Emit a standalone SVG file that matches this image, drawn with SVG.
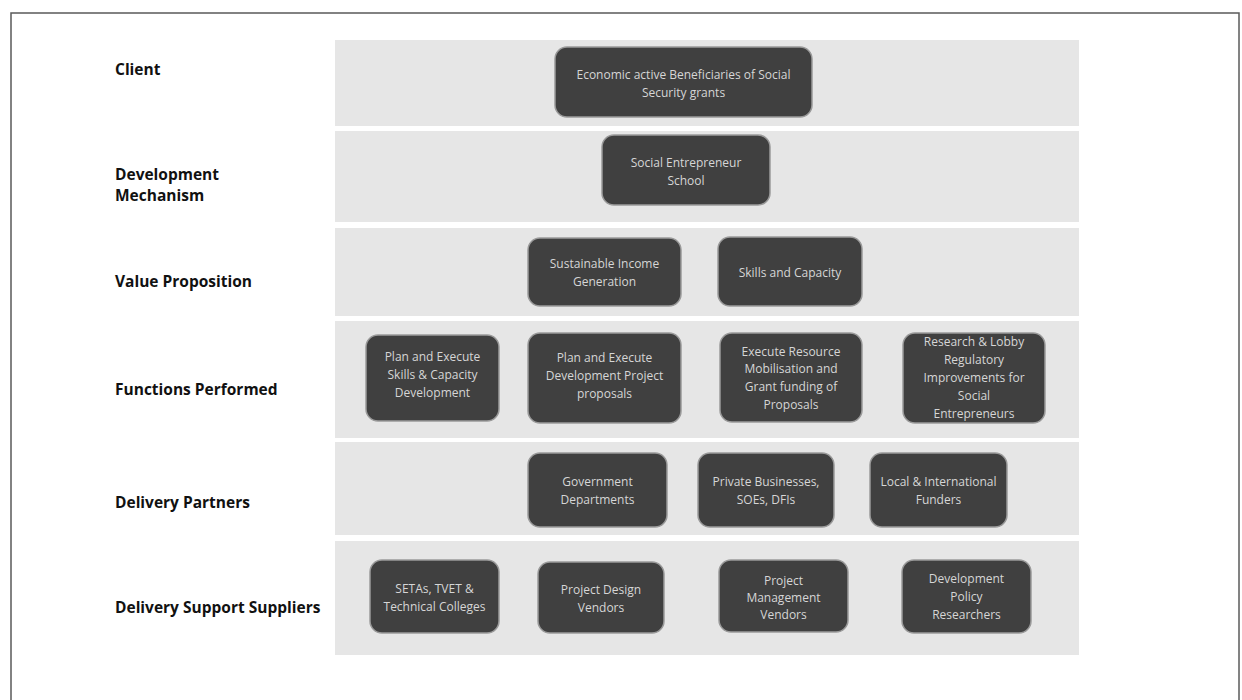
<svg xmlns="http://www.w3.org/2000/svg" width="1242" height="700" viewBox="0 0 1242 700">
  <defs>
    <style>
      .frame { fill: #ffffff; stroke: #5a5a5a; stroke-width: 1.5; }
      .band { fill: #e6e6e6; }
      .box { fill: #404040; stroke: #9a9a9a; stroke-width: 1.5; }
      .box-text { font-family: "Open Sans", "Liberation Sans", sans-serif; font-size: 12px; fill: #d6d6d6; text-anchor: middle; }
      .row-label { font-family: "Open Sans", "Liberation Sans", sans-serif; font-size: 15.5px; font-weight: bold; fill: #111111; }
    </style>
  </defs>

  <rect x="0" y="0" width="1242" height="700" fill="#ffffff"/>
  <rect class="frame" x="11" y="13" width="1228" height="700"/>

  <!-- row bands -->
  <g id="bands">
    <rect class="band" x="335" y="40" width="744" height="86"/>
    <rect class="band" x="335" y="131" width="744" height="91"/>
    <rect class="band" x="335" y="228" width="744" height="88"/>
    <rect class="band" x="335" y="321" width="744" height="117"/>
    <rect class="band" x="335" y="442" width="744" height="93"/>
    <rect class="band" x="335" y="541" width="744" height="114"/>
  </g>

  <!-- row labels -->
  <g id="labels">
    <text class="row-label" x="115" y="75">Client</text>
    <text class="row-label" x="115" y="180">Development</text>
    <text class="row-label" x="115" y="201">Mechanism</text>
    <text class="row-label" x="115" y="287">Value Proposition</text>
    <text class="row-label" x="115" y="395">Functions Performed</text>
    <text class="row-label" x="115" y="508">Delivery Partners</text>
    <text class="row-label" x="115" y="613">Delivery Support Suppliers</text>
  </g>

  <!-- Client -->
  <g id="client">
    <rect class="box" x="555" y="47" width="257" height="70" rx="12"/>
    <text class="box-text" x="683.5" y="79">Economic active Beneficiaries of Social</text>
    <text class="box-text" x="683.5" y="97">Security grants</text>
  </g>

  <!-- Development Mechanism -->
  <g id="school">
    <rect class="box" x="602" y="135" width="168" height="70" rx="12"/>
    <text class="box-text" x="686" y="167">Social Entrepreneur</text>
    <text class="box-text" x="686" y="185">School</text>
  </g>

  <!-- Value Proposition -->
  <g id="income">
    <rect class="box" x="528" y="238" width="153" height="68" rx="12"/>
    <text class="box-text" x="604.5" y="268">Sustainable Income</text>
    <text class="box-text" x="604.5" y="286">Generation</text>
  </g>
  <g id="skills">
    <rect class="box" x="718" y="237" width="144" height="69" rx="12"/>
    <text class="box-text" x="790" y="277">Skills and Capacity</text>
  </g>

  <!-- Functions Performed -->
  <g id="fn-skills">
    <rect class="box" x="366" y="335" width="133" height="86" rx="12"/>
    <text class="box-text" x="432.5" y="361">Plan and Execute</text>
    <text class="box-text" x="432.5" y="379">Skills &amp; Capacity</text>
    <text class="box-text" x="432.5" y="397">Development</text>
  </g>
  <g id="fn-projects">
    <rect class="box" x="528" y="333" width="153" height="90" rx="12"/>
    <text class="box-text" x="604.5" y="362">Plan and Execute</text>
    <text class="box-text" x="604.5" y="380">Development Project</text>
    <text class="box-text" x="604.5" y="398">proposals</text>
  </g>
  <g id="fn-funding">
    <rect class="box" x="720" y="333" width="142" height="89" rx="12"/>
    <text class="box-text" x="791" y="356">Execute Resource</text>
    <text class="box-text" x="791" y="373">Mobilisation and</text>
    <text class="box-text" x="791" y="391">Grant funding of</text>
    <text class="box-text" x="791" y="409">Proposals</text>
  </g>
  <g id="fn-research">
    <rect class="box" x="903" y="333" width="142" height="90" rx="12"/>
    <text class="box-text" x="974" y="346">Research &amp; Lobby</text>
    <text class="box-text" x="974" y="364">Regulatory</text>
    <text class="box-text" x="974" y="382">Improvements for</text>
    <text class="box-text" x="974" y="400">Social</text>
    <text class="box-text" x="974" y="418">Entrepreneurs</text>
  </g>

  <!-- Delivery Partners -->
  <g id="government">
    <rect class="box" x="528" y="453" width="139" height="74" rx="12"/>
    <text class="box-text" x="597.5" y="486">Government</text>
    <text class="box-text" x="597.5" y="504">Departments</text>
  </g>
  <g id="private">
    <rect class="box" x="698" y="453" width="136" height="74" rx="12"/>
    <text class="box-text" x="766" y="486">Private Businesses,</text>
    <text class="box-text" x="766" y="504">SOEs, DFIs</text>
  </g>
  <g id="funders">
    <rect class="box" x="870" y="453" width="137" height="74" rx="12"/>
    <text class="box-text" x="938.5" y="486">Local &amp; International</text>
    <text class="box-text" x="938.5" y="504">Funders</text>
  </g>

  <!-- Delivery Support Suppliers -->
  <g id="setas">
    <rect class="box" x="370" y="560" width="129" height="73" rx="12"/>
    <text class="box-text" x="434.5" y="593">SETAs, TVET &amp;</text>
    <text class="box-text" x="434.5" y="611">Technical Colleges</text>
  </g>
  <g id="design">
    <rect class="box" x="538" y="562" width="126" height="71" rx="12"/>
    <text class="box-text" x="601" y="594">Project Design</text>
    <text class="box-text" x="601" y="612">Vendors</text>
  </g>
  <g id="management">
    <rect class="box" x="719" y="560" width="129" height="72" rx="12"/>
    <text class="box-text" x="783.5" y="585">Project</text>
    <text class="box-text" x="783.5" y="602">Management</text>
    <text class="box-text" x="783.5" y="619">Vendors</text>
  </g>
  <g id="researchers">
    <rect class="box" x="902" y="560" width="129" height="73" rx="12"/>
    <text class="box-text" x="966.5" y="583">Development</text>
    <text class="box-text" x="966.5" y="601">Policy</text>
    <text class="box-text" x="966.5" y="619">Researchers</text>
  </g>

  <!-- no connectors between nodes -->
  <g id="connectors"/>
</svg>
